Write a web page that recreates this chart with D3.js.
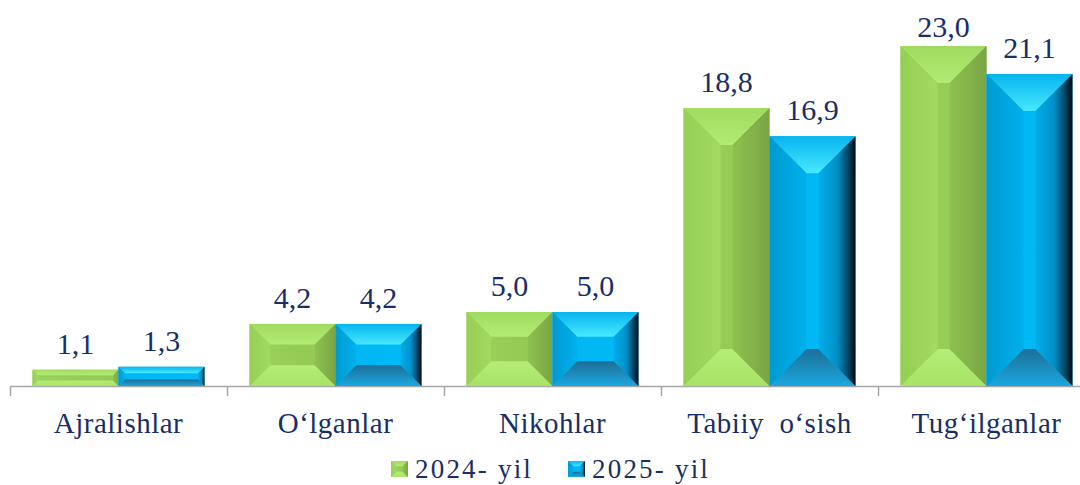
<!DOCTYPE html>
<html>
<head>
<meta charset="utf-8">
<script src="https://cdn.jsdelivr.net/npm/d3@7"></script>
<style>
  html, body { margin: 0; padding: 0; background: #fff; }
  svg { display: block; }
</style>
</head>
<body>
<svg id="chart" width="1080" height="485"></svg>
<script>
const categories = ["Ajralishlar", "O‘lganlar", "Nikohlar", "Tabiiy  o‘sish", "Tug‘ilganlar"];
const seriesNames = ["2024- yil", "2025- yil"];
const values2024 = [1.1, 4.2, 5.0, 18.8, 23.0];
const values2025 = [1.3, 4.2, 5.0, 16.9, 21.1];
const valueLabels2024 = ["1,1", "4,2", "5,0", "18,8", "23,0"];
const valueLabels2025 = ["1,3", "4,2", "5,0", "16,9", "21,1"];

const svg = d3.select("#chart");
const textColor = "#172F66";
const font = "Times New Roman, Liberation Serif, Tinos, Nimbus Roman, serif";

const x0 = d3.scaleBand().domain(categories).range([10, 1095]).paddingInner(0).paddingOuter(0);
const x1 = d3.scaleBand().domain(seriesNames).range([0, x0.bandwidth()]).paddingInner(0).paddingOuter(0.262);
const y = d3.scaleLinear().domain([0, 23]).range([386, 46]);

const defs = svg.append("defs");
function lg(id, x1_, y1_, x2_, y2_, stops) {
  const g = defs.append("linearGradient").attr("id", id)
    .attr("x1", x1_).attr("y1", y1_).attr("x2", x2_).attr("y2", y2_);
  stops.forEach(s => g.append("stop").attr("offset", s[0]).attr("stop-color", s[1]));
}
// green faces
lg("gC", 0, 0, 1, 0, [[0, "#9AD25A"], [1, "#92C853"]]);
lg("gT", 0, 0, 0, 1, [[0, "#A0DA5E"], [1, "#B2EC74"]]);
lg("gB", 0, 1, 0, 0, [[0, "#A8E266"], [1, "#B4EE76"]]);
lg("gL", 0, 0, 1, 0, [[0, "#96CE56"], [1, "#A2DA61"]]);
lg("gR", 0, 0, 1, 0, [[0, "#8EC250"], [1, "#7AA444"]]);
// blue faces
lg("bC", 0, 0, 1, 0, [[0, "#00B6F2"], [1, "#00BAF6"]]);
lg("bT", 0, 0, 0, 1, [[0, "#06B4EE"], [1, "#48E8FF"]]);
lg("bB", 0, 1, 0, 0, [[0, "#1AA8E0"], [1, "#1E6E96"]]);
lg("bL", 0, 0, 1, 0, [[0, "#009AD2"], [1, "#00B0EC"]]);
lg("bR", 0, 0, 1, 0, [[0, "#00AEEA"], [0.5, "#0090C8"], [0.78, "#004C6C"], [1, "#000A12"]]);

const faceIds = [
  { C: "gC", T: "gT", B: "gB", L: "gL", R: "gR" },
  { C: "bC", T: "bT", B: "bB", L: "bL", R: "bR" }
];

function bevelBar(g, x, yTop, w, h, ids, maxB) {
  const b = Math.min(maxB, h / 3, w * 0.43);
  const x2 = x + w, y2 = yTop + h;
  const pts = a => a.map(p => p.join(",")).join(" ");
  g.append("rect").attr("x", x).attr("y", yTop).attr("width", w).attr("height", h).attr("fill", `url(#${ids.C})`);
  g.append("polygon").attr("points", pts([[x, yTop], [x2, yTop], [x2 - b, yTop + b], [x + b, yTop + b]])).attr("fill", `url(#${ids.T})`);
  g.append("polygon").attr("points", pts([[x, y2], [x2, y2], [x2 - b, y2 - b], [x + b, y2 - b]])).attr("fill", `url(#${ids.B})`);
  g.append("polygon").attr("points", pts([[x, yTop], [x + b, yTop + b], [x + b, y2 - b], [x, y2]])).attr("fill", `url(#${ids.L})`);
  g.append("polygon").attr("points", pts([[x2, yTop], [x2 - b, yTop + b], [x2 - b, y2 - b], [x2, y2]])).attr("fill", `url(#${ids.R})`);
}

const seriesValues = [values2024, values2025];
const seriesLabels = [valueLabels2024, valueLabels2025];

// axis
const axisG = svg.append("g");
axisG.append("line").attr("x1", x0.range()[0]).attr("x2", x0.range()[1])
  .attr("y1", y(0) + 0.5).attr("y2", y(0) + 0.5).attr("stroke", "#A6A6A6").attr("stroke-width", 1.5);
const tickXs = categories.map(c => x0(c)).concat([x0.range()[1]]);
axisG.selectAll("line.tick").data(tickXs).enter().append("line")
  .attr("x1", d => d + 0.5).attr("x2", d => d + 0.5)
  .attr("y1", y(0)).attr("y2", y(0) + 10)
  .attr("stroke", "#A6A6A6").attr("stroke-width", 1.5);

// bars
const barsG = svg.append("g");
seriesNames.forEach((s, si) => {
  categories.forEach((c, ci) => {
    const v = seriesValues[si][ci];
    const bx = x0(c) + x1(s);
    const top = y(v);
    bevelBar(barsG, bx, top, x1.bandwidth(), y(0) - top, faceIds[si], 37);
  });
});

// value labels
const labG = svg.append("g").style("font-family", font).attr("font-size", 30).attr("fill", textColor).attr("text-anchor", "middle");
seriesNames.forEach((s, si) => {
  categories.forEach((c, ci) => {
    const v = seriesValues[si][ci];
    labG.append("text")
      .attr("x", x0(c) + x1(s) + x1.bandwidth() / 2)
      .attr("y", Math.max(y(v) - 16, 37))
      .text(seriesLabels[si][ci]);
  });
});

// category labels
svg.append("g").selectAll("text").data(categories).enter().append("text")
  .attr("x", d => x0(d) + x0.bandwidth() / 2)
  .attr("y", 433)
  .attr("text-anchor", "middle")
  .style("font-family", font).attr("font-size", 29).attr("letter-spacing", 0.5)
  .attr("fill", textColor)
  .style("white-space", "pre")
  .text(d => d);

// legend
const legendX = [391, 568];
const legG = svg.append("g");
seriesNames.forEach((s, si) => {
  const lx = legendX[si];
  bevelBar(legG, lx, 461, 17, 16, faceIds[si], 6);
  legG.append("text").attr("x", lx + 24).attr("y", 478)
    .style("font-family", font).attr("font-size", 27).attr("letter-spacing", 2.2)
    .attr("fill", textColor).text(s);
});
</script>
</body>
</html>
